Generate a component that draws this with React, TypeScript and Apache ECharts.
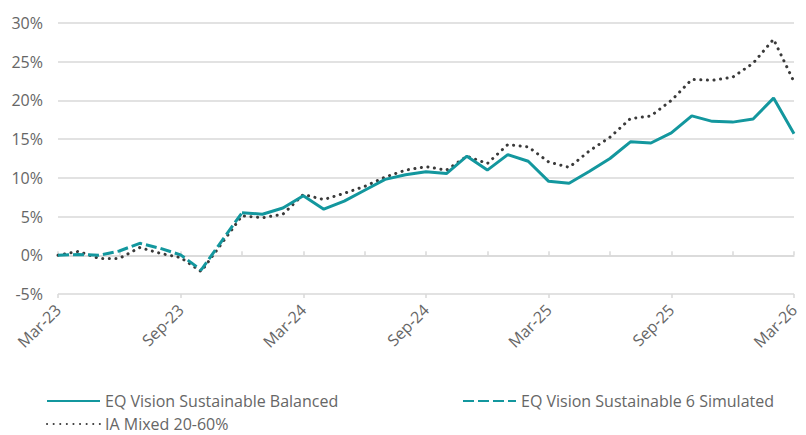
import React, { useEffect, useRef } from "react";
import * as echarts from "echarts";

const months = [
  "Mar-23", "Apr-23", "May-23", "Jun-23", "Jul-23", "Aug-23", "Sep-23", "Oct-23", "Nov-23", "Dec-23",
  "Jan-24", "Feb-24", "Mar-24", "Apr-24", "May-24", "Jun-24", "Jul-24", "Aug-24", "Sep-24", "Oct-24",
  "Nov-24", "Dec-24", "Jan-25", "Feb-25", "Mar-25", "Apr-25", "May-25", "Jun-25", "Jul-25", "Aug-25",
  "Sep-25", "Oct-25", "Nov-25", "Dec-25", "Jan-26", "Feb-26", "Mar-26",
];

// EQ Vision Sustainable Balanced (from Dec-23 onward)
const balancedStart = 9;
const balancedValues = [
  5.5, 5.3, 6.1, 7.7, 5.95, 7.0, 8.4, 9.8, 10.4, 10.8, 10.55, 12.8, 11.0, 13.0,
  12.15, 9.55, 9.3, 10.85, 12.5, 14.65, 14.5, 15.8, 18.0, 17.3, 17.2, 17.6, 20.3, 15.7,
];

// EQ Vision Sustainable 6 Simulated (Mar-23 to Dec-23)
const simulatedValues = [0, 0.1, 0, 0.55, 1.55, 0.9, 0.05, -1.9, 1.8, 5.5];

// IA Mixed 20-60%
const iaValues = [
  0, 0.5, -0.4, -0.4, 1.0, 0.25, -0.3, -2.1, 1.5, 5.1, 4.85, 5.3, 7.85, 7.2, 8.0,
  8.9, 10.1, 11.0, 11.45, 11.0, 12.8, 11.85, 14.3, 14.0, 12.05, 11.35, 13.5, 15.25,
  17.65, 18.0, 20.0, 22.7, 22.6, 23.0, 24.8, 27.9, 22.4,
];

const seriesNames = [
  "EQ Vision Sustainable Balanced",
  "EQ Vision Sustainable 6 Simulated",
  "IA Mixed 20-60%",
];

const TEAL = "#13979e";
const DOT = "#3a3a3a";
const GRID = "#d9d9d9";
const TEXT = "#666666";
const FONT = "'Open Sans', Lato, sans-serif";

const legendBase = {
  orient: "horizontal",
  padding: 0,
  itemWidth: 53,
  itemHeight: 14,
  itemStyle: { opacity: 0 },
  textStyle: { color: TEXT, fontSize: 16, lineHeight: 16, fontFamily: FONT },
};

export default function App() {
  const ref = useRef<HTMLDivElement>(null);

  useEffect(() => {
    if (!ref.current) return;
    const chart = echarts.init(ref.current, undefined, { renderer: "svg" });

    const balancedData = months.map((_, i) =>
      i < balancedStart ? null : balancedValues[i - balancedStart]
    );
    const simulatedData = months.map((_, i) =>
      i < simulatedValues.length ? simulatedValues[i] : null
    );

    chart.setOption({
      animation: false,
      textStyle: { fontFamily: FONT },
      grid: { left: 58, right: 12, top: 23, bottom: 141 },
      legend: [
        { ...legendBase, left: 46, top: 393, data: [seriesNames[0]] },
        { ...legendBase, left: 462, top: 393, data: [seriesNames[1]] },
        { ...legendBase, left: 46, top: 416, data: [seriesNames[2]] },
      ],
      xAxis: [
        {
          type: "category",
          data: months,
          boundaryGap: false,
          axisLine: { show: false, onZero: false },
          axisTick: { show: false },
          axisLabel: {
            rotate: 45,
            interval: 5,
            margin: 13,
            color: TEXT,
            fontSize: 16,
            fontFamily: FONT,
          },
          splitLine: { show: false },
        },
        {
          type: "category",
          data: months,
          boundaryGap: false,
          position: "bottom",
          axisLine: { show: true, onZero: true, lineStyle: { color: GRID, width: 1.5 } },
          axisTick: {
            show: true,
            inside: true,
            length: 4,
            interval: 2,
            lineStyle: { color: GRID, width: 1.5 },
          },
          axisLabel: { show: false },
          splitLine: { show: false },
        },
        {
          type: "category",
          data: months,
          boundaryGap: false,
          position: "bottom",
          axisLine: { show: false, onZero: true },
          axisTick: {
            show: true,
            inside: false,
            length: 4,
            interval: 5,
            lineStyle: { color: GRID, width: 1.5 },
          },
          axisLabel: { show: false },
          splitLine: { show: false },
        },
      ],
      yAxis: {
        type: "value",
        min: -5,
        max: 30,
        interval: 5,
        axisLine: { show: false },
        axisTick: { show: false },
        axisLabel: {
          formatter: "{value}%",
          color: TEXT,
          fontSize: 16,
          margin: 15,
          fontFamily: FONT,
        },
        splitLine: { lineStyle: { color: GRID, width: 1.5 } },
      },
      series: [
        {
          name: seriesNames[2],
          type: "line",
          data: iaValues,
          symbol: "none",
          lineStyle: { color: DOT, width: 3, type: [0.1, 6.5], cap: "round" },
          itemStyle: { color: DOT },
          z: 2,
        },
        {
          name: seriesNames[1],
          type: "line",
          data: simulatedData,
          symbol: "none",
          lineStyle: { color: TEAL, width: 3, type: [11, 4] },
          itemStyle: { color: TEAL },
          z: 3,
        },
        {
          name: seriesNames[0],
          type: "line",
          data: balancedData,
          symbol: "none",
          lineStyle: { color: TEAL, width: 3 },
          itemStyle: { color: TEAL },
          z: 4,
        },
      ],
    });

    return () => chart.dispose();
  }, []);

  return (
    <div
      ref={ref}
      style={{ position: "fixed", left: 0, top: 0, width: 806, height: 435, background: "#fff" }}
    />
  );
}
